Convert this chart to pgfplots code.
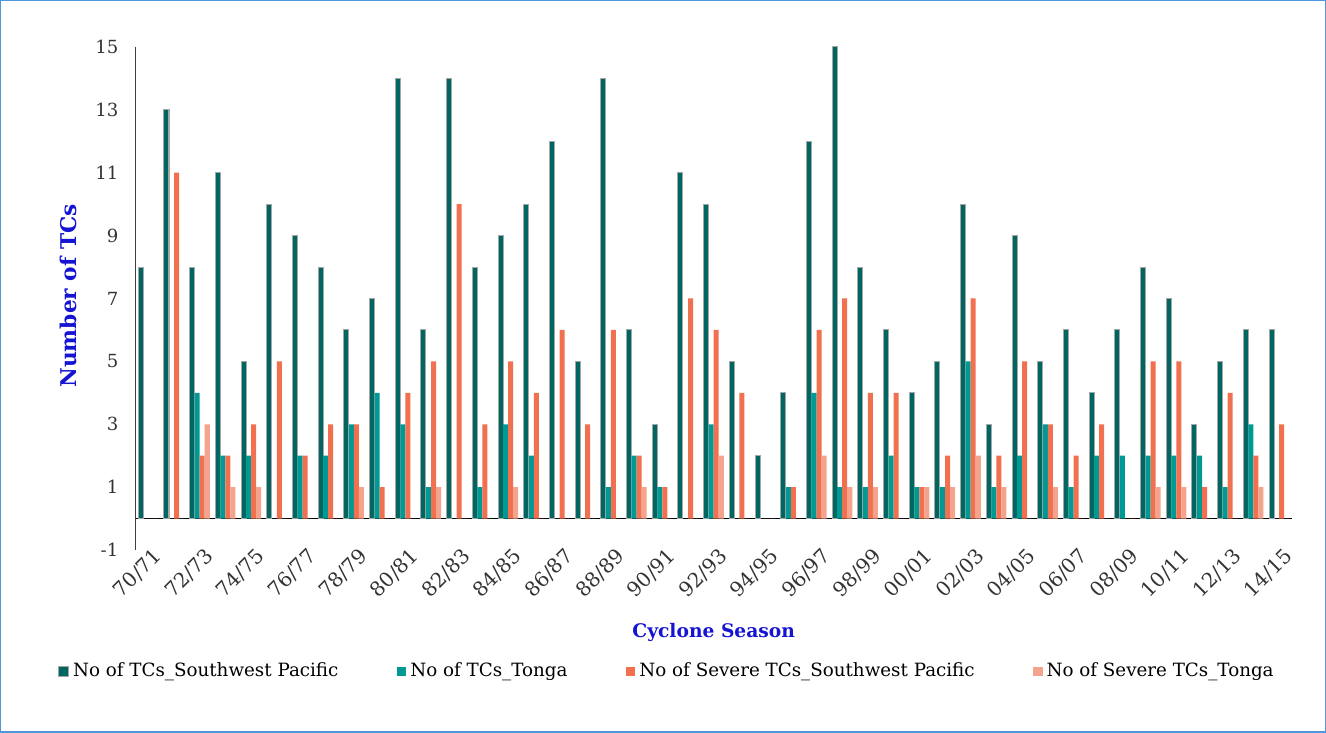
\documentclass[border=0pt]{standalone}
\usepackage{pgfplots}
\pgfplotsset{compat=1.18}
\usepackage{pgfplotstable}
\usepackage{fontspec}
\setmainfont{DejaVu Serif}

\definecolor{swpac}{RGB}{0,102,98}
\definecolor{tonga}{RGB}{0,153,148}
\definecolor{sevsw}{RGB}{240,112,80}
\definecolor{sevtonga}{RGB}{244,164,140}
\definecolor{titleblue}{RGB}{20,20,210}
\definecolor{frameblue}{RGB}{80,150,220}

\pgfplotsset{
  sqleg/.style={legend image code/.code={\fill[##1] (0pt,-2.4pt) rectangle (4.8pt,2.4pt);}},
}

% idx 0 = 70/71 ... 44 = 14/15
\pgfplotstableread{
idx sw tonga ssw stonga
0  8  0  0  0
1  13 0  11 0
2  8  4  2  3
3  11 2  2  1
4  5  2  3  1
5  10 0  5  0
6  9  2  2  0
7  8  2  3  0
8  6  3  3  1
9  7  4  1  0
10 14 3  4  0
11 6  1  5  1
12 14 0  10 0
13 8  1  3  0
14 9  3  5  1
15 10 2  4  0
16 12 0  6  0
17 5  0  3  0
18 14 1  6  0
19 6  2  2  1
20 3  1  1  0
21 11 0  7  0
22 10 3  6  2
23 5  0  4  0
24 2  0  0  0
25 4  1  1  0
26 12 4  6  2
27 15 1  7  1
28 8  1  4  1
29 6  2  4  0
30 4  1  1  1
31 5  1  2  1
32 10 5  7  2
33 3  1  2  1
34 9  2  5  0
35 5  3  3  1
36 6  1  2  0
37 4  2  3  0
38 6  2  0  0
39 8  2  5  1
40 7  2  5  1
41 3  2  1  0
42 5  1  4  0
43 6  3  2  1
44 6  0  3  0
}\tcdata

\begin{document}
\begin{tikzpicture}
\begin{axis}[
  name=ax,
  scale only axis,
  width=575.8pt, height=250.5pt,
  ybar=0pt, bar width=2.5pt,
  xmin=-0.5, xmax=44.5, ymin=-1, ymax=15,
  axis x line=middle, axis y line=left,
  x axis line style={-, line width=0.8pt, black},
  y axis line style={-, line width=0.6pt, black!75},
  major tick length=0pt,
  xtick={0,2,...,44},
  xticklabels={70/71,72/73,74/75,76/77,78/79,80/81,82/83,84/85,86/87,88/89,90/91,92/93,94/95,96/97,98/99,00/01,02/03,04/05,06/07,08/09,10/11,12/13,14/15},
  xticklabel style={yshift=-9pt, xshift=2pt, rotate=45, anchor=north east, font=\fontsize{10}{12}\selectfont, text=black!80},
  ytick={-1,1,...,15},
  yticklabel style={xshift=-5pt, font=\fontsize{9}{11}\selectfont, text=black!80},
  /pgf/number format/assume math mode=true,
  xlabel={Cyclone Season},
  xlabel style={at={(axis description cs:0.5,-0.164)}, anchor=center, font=\bfseries\fontsize{9.3}{11}\selectfont, text=titleblue},
  ylabel={Number of TCs},
  ylabel style={at={(axis description cs:-0.0584,0.505)}, anchor=center, font=\bfseries\fontsize{10.8}{13}\selectfont, text=titleblue},
  legend columns=4,
  legend style={at={(axis description cs:-0.067,-0.2415)}, anchor=west, draw=none, fill=none,
    font=\fontsize{9.1}{11}\selectfont, inner sep=0pt,
    /tikz/every even column/.append style={column sep=27pt}},
]
\addplot[fill=swpac, draw=gray!70, line width=0.5pt, sqleg]
  table[x=idx, y=sw] {\tcdata};
\addplot[fill=tonga, draw=none, sqleg]
  table[x=idx, y=tonga] {\tcdata};
\addplot[fill=sevsw, draw=none, sqleg]
  table[x=idx, y=ssw] {\tcdata};
\addplot[fill=sevtonga, draw=none, sqleg]
  table[x=idx, y=stonga] {\tcdata};
\legend{No of TCs\_Southwest Pacific, No of TCs\_Tonga, No of Severe TCs\_Southwest Pacific, No of Severe TCs\_Tonga}
\end{axis}
\draw[frameblue, line width=0.7pt] ([shift={(-67.1pt,-90.5pt)}]ax.south west) rectangle ([shift={(592.4pt,273.5pt)}]ax.south west);
\end{tikzpicture}
\end{document}
